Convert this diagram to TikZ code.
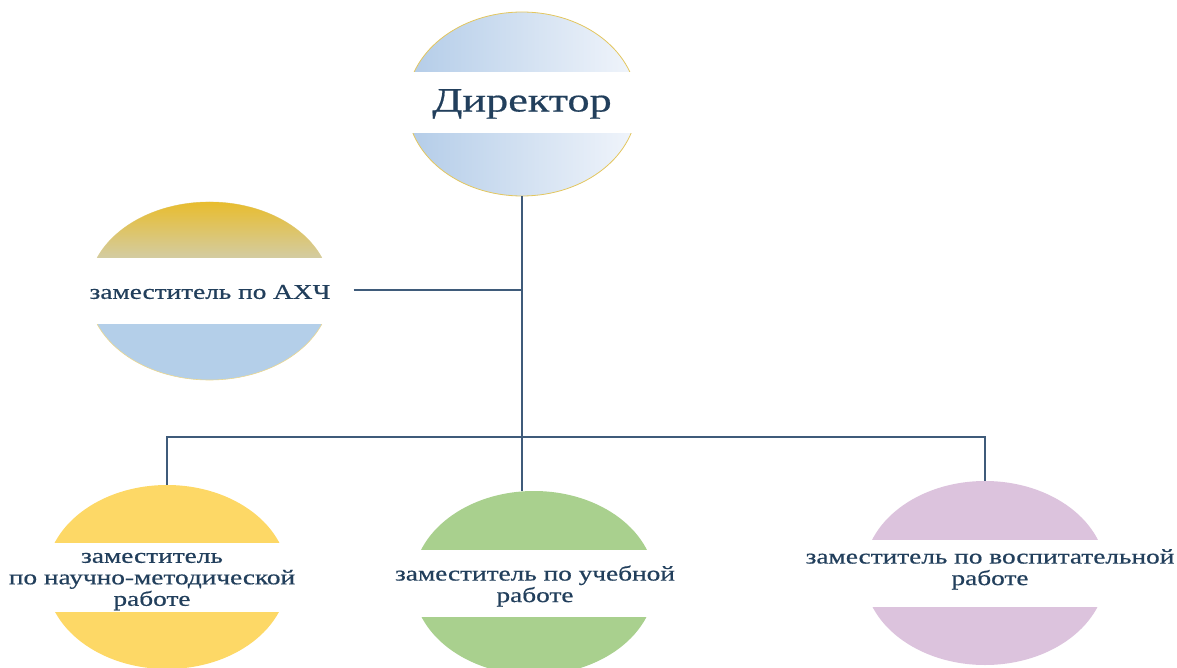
\documentclass[tikz,border=0pt]{standalone}
\usepackage{fontspec}
\usepackage{graphicx}
\setmainfont{Liberation Serif}[FakeBold=0.5]
\usetikzlibrary{shapes.geometric}
\definecolor{txt}{HTML}{223F5C}
\definecolor{conn}{HTML}{3F5B7A}
\definecolor{dirL}{HTML}{B3CCE8}
\definecolor{dirR}{HTML}{F1F5FB}
\definecolor{gold}{HTML}{E3C65E}
\definecolor{axTop}{HTML}{E9BC2A}
\definecolor{axMid}{HTML}{D3CCA2}
\definecolor{axBlue}{HTML}{B4CFE9}
\definecolor{yel}{HTML}{FDD866}
\definecolor{grn}{HTML}{A9D08E}
\definecolor{pur}{HTML}{DCC3DD}
\begin{document}
\begin{tikzpicture}[x=1pt,y=-1pt,
  oval/.style={ellipse, inner sep=0pt, minimum width=242pt, minimum height=184pt},
  band/.style={fill=white},
  lbltext/.style={inner sep=0pt, text=txt, font=\fontsize{21}{21.5}\selectfont},
  conline/.style={draw=conn, line width=1.4pt}]
\useasboundingbox (0,0) rectangle (1177,668);
\clip (0,0) rectangle (1177,668);

% Director
\node[oval, minimum width=230pt, shading=axis, left color=dirL, right color=dirR, draw=gold, line width=0.8pt] (dir) at (522,104) {};
\fill[band] (400,72) rectangle (645,133);

% AXCh
\node[oval, minimum height=178pt, fill=axBlue, draw=gold!70, line width=0.6pt] (axch) at (209.5,291) {};
\begin{scope}
  \clip (209.5,291) ellipse [x radius=121pt, y radius=89pt];
  \shade[top color=axTop, bottom color=axMid] (85,200) rectangle (335,258);
\end{scope}
\fill[band] (80,258) rectangle (340,324);

% bottom ovals
\node[oval, fill=yel] (ynm) at (167,577) {};
\fill[band] (40,543) rectangle (295,612);
\node[oval, fill=grn] (gr) at (534,583) {};
\fill[band] (405,550) rectangle (665,617);
\node[oval, fill=pur] (pu) at (985,573) {};
\fill[band] (855,540) rectangle (1115,607);

% texts
\node[lbltext, font=\fontsize{34}{40}\selectfont] (tdir) at (522,104) {\scalebox{1.3}[1]{Директор}};
\node[lbltext] (taxch) at (210,292) {\scalebox{1.3}[1]{заместитель по АХЧ}};
\node[lbltext] (tynm) at (152,580) {\scalebox{1.3}[1]{\begin{tabular}{@{}c@{}}заместитель\\по научно-методической\\работе\end{tabular}}};
\node[lbltext] (tgr) at (535,587) {\scalebox{1.3}[1]{\begin{tabular}{@{}c@{}}заместитель по учебной\\работе\end{tabular}}};
\node[lbltext] (tpu) at (990,570) {\scalebox{1.3}[1]{\begin{tabular}{@{}c@{}}заместитель по воспитательной\\работе\end{tabular}}};

% connectors
\coordinate (j0) at (521,437);
\coordinate (j1) at (521,290);
\coordinate (a0) at ([xshift=23pt]taxch.east);
\draw[conline] (dir.south) -- (dir.south |- gr.north);
\draw[conline] (a0 |- j1) -- (j1);
\draw[conline] (ynm.north) -- (ynm.north |- j0) -- (pu.north |- j0) -- (pu.north);
\end{tikzpicture}
\end{document}
